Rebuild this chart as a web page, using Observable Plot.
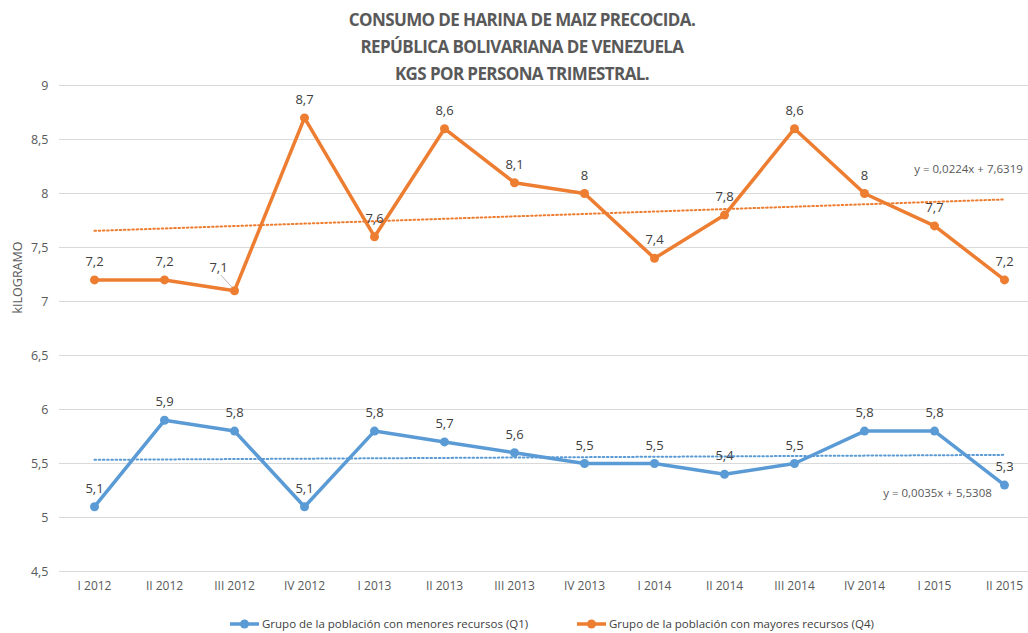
<!DOCTYPE html>
<html><head><meta charset="utf-8">
<script src="https://cdn.jsdelivr.net/npm/d3@7"></script>
<script src="https://cdn.jsdelivr.net/npm/@observablehq/plot@0.6"></script>
<style>
body{margin:0;background:#fff;font-family:"Open Sans",sans-serif;}
#wrap{position:relative;width:1028px;height:633px;overflow:hidden;}
#title{position:absolute;left:0;width:1044px;top:6px;text-align:center;font-weight:bold;font-size:17px;letter-spacing:-0.6px;line-height:27px;color:#595959;}
#legend{position:absolute;top:616px;left:0;width:1028px;height:20px;font-size:11.5px;color:#404040;}
.lg{position:absolute;display:flex;align-items:center;}
#chart{position:absolute;left:0;top:0;}
</style></head>
<body><div id="wrap">
<div id="chart"></div>
<div id="title">CONSUMO DE HARINA DE MAIZ PRECOCIDA.<br>REPÚBLICA BOLIVARIANA DE VENEZUELA<br>KGS POR PERSONA TRIMESTRAL.</div>
<div id="legend"></div>
</div>
<script>
const categories = ["I 2012","II 2012","III 2012","IV 2012","I 2013","II 2013","III 2013","IV 2013","I 2014","II 2014","III 2014","IV 2014","I 2015","II 2015"];
const q1 = [5.1,5.9,5.8,5.1,5.8,5.7,5.6,5.5,5.5,5.4,5.5,5.8,5.8,5.3];
const q4 = [7.2,7.2,7.1,8.7,7.6,8.6,8.1,8.0,7.4,7.8,8.6,8.0,7.7,7.2];
const trendQ1 = [5.534,5.580];
const trendQ4 = [7.654,7.945];
const eqQ1 = "y = 0,0035x + 5,5308";
const eqQ4 = "y = 0,0224x + 7,6319";
const yTicks = [4.5,5,5.5,6,6.5,7,7.5,8,8.5,9];
const seriesNames = ["Grupo de la población con menores recursos (Q1)","Grupo de la población con mayores recursos (Q4)"];
const colors = ["#5B9BD5","#ED7D31"];

const fmt = v => String(v).replace(".", ",");
const d1 = categories.map((c,i)=>({c, v:q1[i]}));
const d4 = categories.map((c,i)=>({c, v:q4[i]}));
const last = categories.length-1;
const t1 = [{c:categories[0], v:trendQ1[0]},{c:categories[last], v:trendQ1[1]}];
const t4 = [{c:categories[0], v:trendQ4[0]},{c:categories[last], v:trendQ4[1]}];
const lab4 = d4.filter((d,i)=>i!==2);
const lab4b = d4.filter((d,i)=>i===2);

const chart = Plot.plot({
  width:1028, height:633,
  marginLeft:59, marginRight:0, marginTop:85, marginBottom:62,
  style:{fontFamily:"Open Sans, sans-serif", fontSize:"12px", color:"#595959", background:"transparent"},
  x:{type:"point", domain:categories, range:[94,1004], padding:0},
  y:{domain:[4.5,9]},
  marks:[
    Plot.gridY(yTicks,{stroke:"#d9d9d9", strokeOpacity:1, strokeWidth:1}),
    Plot.axisY(yTicks,{tickSize:0, tickPadding:11, tickFormat:fmt, fill:"#595959", fontSize:12.5, label:null}),
    Plot.axisX({tickSize:0, tickPadding:10, fill:"#595959", fontSize:12, label:null}),
    Plot.text(["kILOGRAMO"],{frameAnchor:"left", textAnchor:"middle", dx:-42, dy:-51, rotate:-90, fill:"#595959", fontSize:12.5}),
    Plot.line(t4,{x:"c", y:"v", stroke:colors[1], strokeWidth:2, strokeDasharray:"1.6,2.6"}),
    Plot.line(t1,{x:"c", y:"v", stroke:colors[0], strokeWidth:2, strokeDasharray:"1.6,2.6"}),
    Plot.line(d4,{x:"c", y:"v", stroke:colors[1], strokeWidth:3.5}),
    Plot.dot(d4,{x:"c", y:"v", fill:colors[1], r:4.5}),
    Plot.line(d1,{x:"c", y:"v", stroke:colors[0], strokeWidth:3.5}),
    Plot.dot(d1,{x:"c", y:"v", fill:colors[0], r:4.5}),
    Plot.text(d1,{x:"c", y:"v", text:d=>fmt(d.v), dy:-18, fill:"#404040", fontSize:13}),
    Plot.text(lab4,{x:"c", y:"v", text:d=>fmt(d.v), dy:-18, fill:"#404040", fontSize:13}),
    Plot.text(lab4b,{x:"c", y:"v", text:d=>fmt(d.v), dx:-16, dy:-23, fill:"#404040", fontSize:13}),
    Plot.text([eqQ4],{x:()=>categories[last], y:()=>trendQ4[1], text:d=>d, dx:-36, dy:-30, fill:"#595959", fontSize:11.5}),
    Plot.text([eqQ1],{x:()=>categories[last-1], y:()=>trendQ1[1], text:d=>d, dx:3, dy:38, fill:"#595959", fontSize:11.5})
  ]
});
document.getElementById("chart").appendChild(chart);

// leader line for 7,1 label
{
  const xs = chart.scale("x"), ys = chart.scale("y");
  const px = xs.apply(categories[2]), py = ys.apply(q4[2]);
  const ns="http://www.w3.org/2000/svg";
  const ln=document.createElementNS(ns,"line");
  ln.setAttribute("x1",px-13); ln.setAttribute("y1",py-15);
  ln.setAttribute("x2",px-2); ln.setAttribute("y2",py-3);
  ln.setAttribute("stroke","#a6a6a6"); ln.setAttribute("stroke-width","0.8");
  chart.appendChild(ln);
}

const lg = document.getElementById("legend");
const pos = [230,577];
seriesNames.forEach((n,i)=>{
  const d=document.createElement("div"); d.className="lg"; d.style.left=pos[i]+"px"; d.style.top="0px";
  d.innerHTML=`<svg width="30" height="12"><line x1="0" y1="6" x2="29" y2="6" stroke="${colors[i]}" stroke-width="3.5"/><circle cx="14.5" cy="6" r="4.5" fill="${colors[i]}"/></svg><span style="margin-left:2px">${n}</span>`;
  lg.appendChild(d);
});
</script>
</body></html>
